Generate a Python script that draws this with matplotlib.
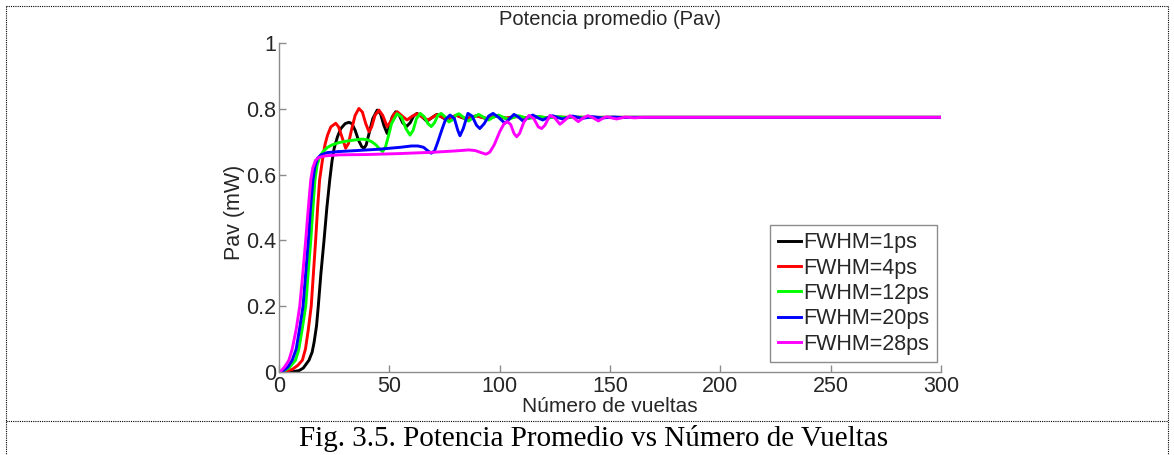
import matplotlib
matplotlib.use("Agg")
import matplotlib.pyplot as plt
from matplotlib.lines import Line2D

# ---------------- data ----------------
labels = ["FWHM=1ps", "FWHM=4ps", "FWHM=12ps", "FWHM=20ps", "FWHM=28ps"]
colors = ["#000000", "#ff0000", "#00ff00", "#0000ff", "#ff00ff"]

x_1ps = [0, 6, 9, 11, 13.6, 15, 15.9, 17, 17.8, 19, 20.4, 21.7, 23, 24, 25, 26.5, 28, 30, 31.7, 33,
         34.5, 36, 37.5, 38.5, 39.5, 41, 42.5, 44.5, 46, 47.5, 49, 50, 51.3, 52.9, 54.5, 56, 57.8,
         59.5, 61, 62.5, 64.5, 67, 69.5, 71.5, 74, 76, 78, 80.5, 83, 85, 87, 89.5, 92, 94, 96, 98.5,
         101, 103, 105, 107.5, 110, 112, 116.5, 121, 125.5, 130, 140, 300]
y_1ps = [0, 0.001, 0.004, 0.012, 0.036, 0.06, 0.09, 0.14, 0.2, 0.3, 0.4, 0.5, 0.584, 0.64, 0.68, 0.715,
         0.74, 0.755, 0.759, 0.755, 0.735, 0.705, 0.685, 0.68, 0.69, 0.73, 0.77, 0.796, 0.785, 0.75,
         0.725, 0.745, 0.775, 0.791, 0.78, 0.758, 0.746, 0.758, 0.778, 0.786, 0.778, 0.762, 0.774,
         0.783, 0.774, 0.766, 0.774, 0.780, 0.773, 0.769, 0.774, 0.779, 0.774, 0.770, 0.774, 0.778,
         0.774, 0.771, 0.774, 0.777, 0.774, 0.772, 0.776, 0.773, 0.775, 0.7735, 0.774, 0.774]

x_4ps = [0, 3, 6, 8.5, 10.6, 12, 13.3, 14.6, 15.6, 16.6, 17.5, 18.4, 19.6, 20.8, 22, 23.5, 25.7, 27,
         28.5, 30.2, 31.5, 33, 34.5, 36.2, 37.8, 39.3, 40.8, 42, 43.5, 45.3, 47, 49, 50.5, 52, 53.6,
         55.5, 58, 60.5, 62.5, 65, 67.5, 69.5, 71.5, 74, 76, 78, 80.5, 83, 85, 89.5, 94, 98.5, 103,
         107.5, 112, 116.5, 121, 130, 140, 300]
y_4ps = [0, 0.002, 0.008, 0.02, 0.036, 0.07, 0.13, 0.2, 0.3, 0.4, 0.5, 0.584, 0.64, 0.69, 0.72, 0.745,
         0.756, 0.745, 0.715, 0.68, 0.695, 0.74, 0.78, 0.801, 0.79, 0.755, 0.73, 0.745, 0.78, 0.796,
         0.78, 0.746, 0.76, 0.783, 0.791, 0.78, 0.766, 0.778, 0.785, 0.775, 0.766, 0.774, 0.782,
         0.775, 0.768, 0.774, 0.780, 0.774, 0.770, 0.778, 0.771, 0.777, 0.772, 0.776, 0.773, 0.775,
         0.7735, 0.7745, 0.774, 0.774]

x_12ps = [0, 2, 4.5, 7.5, 9, 10.5, 12.1, 13.2, 14.4, 15.4, 16.3, 17.3, 18.5, 20, 22, 24, 27, 30, 34,
          37.6, 40, 42, 44, 45.5, 47, 48.3, 49.5, 51, 53.5, 55.5, 57.5, 59.4, 60.8, 62.3, 64, 65.8,
          67.5, 69, 70.5, 72, 73.5, 75.5, 77, 78.5, 80, 81.5, 84, 86, 88, 90.5, 93, 95, 97, 99.5,
          102, 104, 108.5, 113, 117.5, 122, 126.5, 131, 135.5, 140, 150, 300]
y_12ps = [0, 0.003, 0.012, 0.036, 0.07, 0.13, 0.2, 0.3, 0.4, 0.5, 0.584, 0.63, 0.655, 0.67, 0.683,
          0.69, 0.697, 0.701, 0.705, 0.708, 0.706, 0.70, 0.69, 0.678, 0.67, 0.685, 0.715, 0.755,
          0.785, 0.775, 0.74, 0.72, 0.735, 0.77, 0.786, 0.776, 0.755, 0.746, 0.758, 0.78, 0.786,
          0.774, 0.76, 0.766, 0.78, 0.785, 0.772, 0.763, 0.774, 0.783, 0.773, 0.766, 0.774, 0.781,
          0.773, 0.768, 0.779, 0.770, 0.777, 0.772, 0.776, 0.773, 0.775, 0.7735, 0.774, 0.774]

x_20ps = [0, 2, 4, 6, 7.8, 9.3, 10.9, 12.1, 13.3, 14.3, 15.4, 16.3, 17.5, 19, 22, 27, 35, 45, 55, 60,
          63, 65.5, 67.5, 69, 70.5, 72, 74, 75.5, 77.5, 79.5, 81, 82, 83.5, 85.6, 87.5, 89.5, 91,
          93, 95, 97, 99.5, 102.4, 104.5, 106.5, 108.5, 110.5, 112.5, 115, 117.5, 119.5, 121.5,
          124, 126.5, 128.5, 133, 137.5, 142, 146.5, 151, 155, 160, 300]
y_20ps = [0, 0.004, 0.015, 0.036, 0.07, 0.13, 0.2, 0.3, 0.4, 0.5, 0.584, 0.625, 0.65, 0.66, 0.667,
          0.67, 0.673, 0.677, 0.683, 0.687, 0.687, 0.683, 0.672, 0.665, 0.672, 0.7, 0.74, 0.768,
          0.781, 0.77, 0.735, 0.718, 0.74, 0.786, 0.778, 0.75, 0.74, 0.755, 0.778, 0.786, 0.774,
          0.756, 0.77, 0.783, 0.775, 0.763, 0.772, 0.781, 0.772, 0.766, 0.772, 0.779, 0.773, 0.769,
          0.778, 0.771, 0.776, 0.772, 0.775, 0.7735, 0.774, 0.774]

x_28ps = [0, 1, 2.5, 4.5, 6, 7.8, 9.4, 10.8, 12.1, 13.3, 14.4, 15.3, 16.5, 18, 21, 27, 40, 55, 70, 80,
          86, 89, 91.5, 93.8, 95.5, 97.5, 100, 102, 103.5, 105, 106.5, 107.7, 109, 111, 113.3,
          115.5, 117.5, 119, 120.5, 122.8, 125, 127.3, 129.5, 131.8, 133.8, 135.6, 137.8, 140,
          142.5, 144.7, 146.7, 148.5, 151, 153, 157, 161, 165, 300]
y_28ps = [0, 0.004, 0.015, 0.036, 0.07, 0.13, 0.2, 0.3, 0.4, 0.5, 0.584, 0.62, 0.643, 0.652, 0.657,
          0.66, 0.661, 0.664, 0.668, 0.672, 0.675, 0.673, 0.667, 0.662, 0.668, 0.69, 0.73, 0.755,
          0.761, 0.752, 0.725, 0.715, 0.725, 0.76, 0.78, 0.77, 0.745, 0.74, 0.75, 0.78, 0.772,
          0.753, 0.765, 0.779, 0.771, 0.761, 0.772, 0.779, 0.772, 0.763, 0.771, 0.776, 0.772,
          0.769, 0.775, 0.7725, 0.774, 0.774]

xs = [x_1ps, x_4ps, x_12ps, x_20ps, x_28ps]
ys = [y_1ps, y_4ps, y_12ps, y_20ps, y_28ps]

x_ticks = [0, 50, 100, 150, 200, 250, 300]
y_ticks = [0, 0.2, 0.4, 0.6, 0.8, 1]
y_ticklabels = ["0", "0.2", "0.4", "0.6", "0.8", "1"]

title = "Potencia promedio (Pav)"
xlabel = "Número de vueltas"
ylabel = "Pav (mW)"
caption = "Fig. 3.5. Potencia Promedio vs Número de Vueltas"

# ---------------- figure ----------------
plt.rcParams['font.family'] = ['Liberation Sans', 'DejaVu Sans']
W, H = 1174, 455
fig = plt.figure(figsize=(W / 100, H / 100), dpi=100)
ax = fig.add_axes([279 / W, 83 / H, 662 / W, 329 / H])

for x, y, c, lab in zip(xs, ys, colors, labels):
    ax.plot(x, y, color=c, lw=2.1, label=lab, solid_joinstyle='round')

ax.set_xlim(0, 300)
ax.set_ylim(0, 1)
ax.set_xticks(x_ticks)
ax.set_yticks(y_ticks)
ax.set_yticklabels(y_ticklabels)

gray = "#8c8c8c"
txt = "#262626"
for s in ["top", "right"]:
    ax.spines[s].set_visible(False)
for s in ["left", "bottom"]:
    ax.spines[s].set_color(gray)
    ax.spines[s].set_linewidth(1.0)
ax.tick_params(direction="in", length=5, width=1, color=gray, labelsize=15.5,
               labelcolor=txt)
ax.tick_params(axis="x", pad=3)
ax.tick_params(axis="y", pad=2)

ax.set_title(title, fontsize=14.5, color=txt, pad=13)
ax.set_xlabel(xlabel, fontsize=15, color=txt)
ax.xaxis.set_label_coords(0.5, -0.075)
ax.set_ylabel(ylabel, fontsize=15.5, color=txt)
ax.yaxis.set_label_coords(-0.052, 0.485)

leg = ax.legend(loc="lower right", bbox_to_anchor=(0.994, 0.030), borderaxespad=0,
                fontsize=15.5, handlelength=1.1, handletextpad=0.1, labelspacing=0.2,
                borderpad=0.35, fancybox=False, framealpha=1)
leg.get_frame().set_edgecolor(gray)
leg.get_frame().set_linewidth(1.0)
for t in leg.get_texts():
    t.set_color(txt)

# dotted frame and caption
def fline(x0, y0, x1, y1):
    fig.add_artist(Line2D([x0 / W, x1 / W], [1 - y0 / H, 1 - y1 / H], transform=fig.transFigure,
                          color="black", lw=0.8, linestyle=(0, (1, 1))))

fline(6, 6, 1168, 6)
fline(6, 6, 6, 455)
fline(1168, 6, 1168, 455)
fline(6, 421, 1168, 421)

fig.text(594 / W, 1 - 438 / H, caption, ha="center", va="center", fontsize=21,
         family=["Liberation Serif", "DejaVu Serif"], color="black")

fig.savefig("out.png", dpi=100)
